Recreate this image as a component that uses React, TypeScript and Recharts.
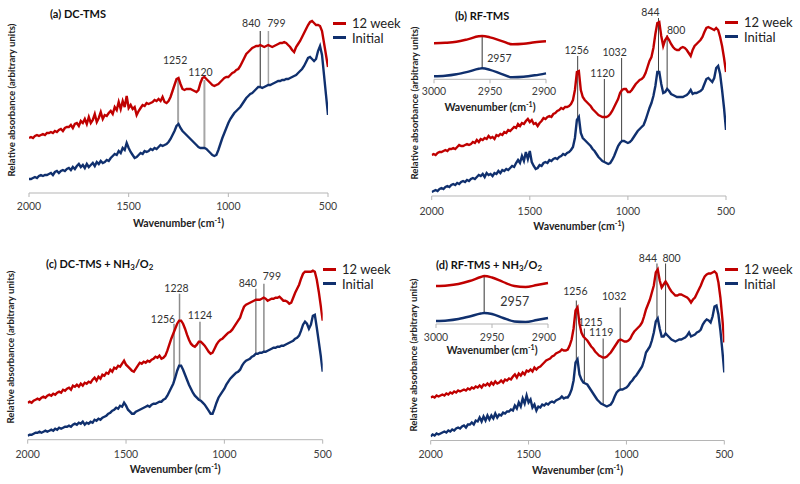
import { LineChart, Line, XAxis, YAxis, ReferenceLine } from 'recharts';

const FONT = 'Lato, "Liberation Sans", sans-serif';
const RED = '#c00000';
const NAVY = '#10306e';
const AXIS = '#b5b5b5';

// wavenumber grid (cm-1), shared by the four main spectra
const wavenumbers = [
  2000, 1990, 1980, 1970, 1960, 1950, 1940, 1930, 1920, 1910,
  1900, 1890, 1880, 1870, 1860, 1850, 1840, 1830, 1820, 1810,
  1800, 1790, 1780, 1770, 1760, 1750, 1740, 1730, 1720, 1710,
  1700, 1690, 1680, 1670, 1660, 1650, 1640, 1630, 1620, 1610,
  1600, 1590, 1580, 1570, 1560, 1550, 1540, 1530, 1520, 1510,
  1500, 1490, 1480, 1470, 1460, 1450, 1440, 1430, 1420, 1410,
  1400, 1390, 1380, 1370, 1360, 1350, 1340, 1330, 1320, 1310,
  1300, 1290, 1280, 1270, 1260, 1250, 1240, 1230, 1220, 1210,
  1200, 1190, 1180, 1170, 1160, 1150, 1140, 1130, 1120, 1110,
  1100, 1090, 1080, 1070, 1060, 1050, 1040, 1030, 1020, 1010,
  1000, 990, 980, 970, 960, 950, 940, 930, 920, 910,
  900, 890, 880, 870, 860, 850, 840, 830, 820, 810,
  800, 790, 780, 770, 760, 750, 740, 730, 720, 710,
  700, 690, 680, 670, 660, 650, 640, 630, 620, 610,
  600, 590, 580, 570, 560, 550, 540, 530, 520, 510,
  500,
];

// (a) DC-TMS
const aWeek12 = [
  55, 56, 55, 57, 58, 57, 58, 59, 58, 60,
  60, 61, 60, 62, 61, 63, 64, 62, 65, 66,
  66, 68, 65, 69, 70, 67, 72, 70, 74, 69,
  76, 70, 73, 79, 71, 75, 81, 74, 78, 77,
  80, 82, 79, 86, 83, 91, 84, 92, 86, 97,
  85, 88, 84, 86, 78, 82, 85, 88, 87, 90,
  89, 90, 91, 93, 92, 94, 92, 96, 91, 90,
  92, 96, 102, 108, 114, 115, 109, 104, 103, 104,
  104, 104, 103, 102, 101, 103, 110, 115, 116, 114,
  112, 110, 108, 107, 108, 109, 111, 113, 115, 116,
  116, 118, 120, 121, 123, 124, 127, 131, 135, 139,
  141, 143, 145, 146, 147, 147, 148, 147, 146, 147,
  148, 147, 146, 147, 148, 149, 150, 150, 151, 150,
  148, 146, 143, 141, 146, 149, 152, 156, 160, 164,
  168, 171, 172, 170, 168, 168, 167, 162, 150, 138,
  126,
];
const aInitial = [
  14, 14, 15, 16, 15, 17, 18, 17, 18, 18,
  19, 20, 18, 21, 22, 20, 22, 23, 22, 24,
  25, 23, 26, 24, 27, 29, 26, 28, 25, 29,
  26, 28, 30, 27, 31, 29, 32, 30, 31, 33,
  32, 35, 37, 39, 38, 42, 40, 45, 43, 50,
  45, 41, 38, 35, 36, 38, 40, 39, 42, 41,
  42, 44, 43, 45, 44, 46, 48, 47, 48, 49,
  51, 54, 58, 62, 67, 69, 65, 62, 60, 58,
  56, 54, 52, 50, 48, 46, 45, 45, 45, 44,
  42, 40, 38, 37, 38, 43, 49, 55, 60, 65,
  70, 74, 77, 80, 82, 84, 86, 89, 92, 95,
  97, 99, 100, 102, 104, 106, 106, 105, 106, 107,
  108, 108, 109, 110, 111, 112, 112, 113, 113, 114,
  114, 115, 116, 117, 118, 120, 122, 124, 127, 131,
  135, 136, 134, 132, 134, 142, 147, 138, 118, 98,
  78,
];

// (b) RF-TMS
const bWeek12 = [
  41, 42, 41, 43, 44, 44, 45, 46, 45, 47,
  47, 48, 47, 49, 51, 50, 50, 51, 52, 51,
  52, 54, 53, 56, 54, 57, 56, 58, 57, 60,
  58, 59, 57, 61, 60, 62, 61, 64, 63, 66,
  65, 67, 69, 68, 72, 70, 73, 72, 75, 77,
  74, 76, 72, 73, 70, 73, 75, 78, 77, 79,
  80, 79, 82, 83, 85, 86, 88, 87, 89, 89,
  90, 92, 96, 106, 124, 125, 106, 99, 96, 94,
  92, 90, 87, 85, 83, 81, 80, 79, 79, 79,
  80, 82, 85, 89, 93, 97, 103, 106, 107, 107,
  104, 104, 106, 109, 112, 114, 116, 117, 119, 123,
  129, 135, 139, 148, 162, 173, 174, 160, 150, 156,
  159, 156, 152, 149, 147, 146, 146, 148, 149, 148,
  146, 143, 140, 146, 150, 152, 154, 156, 159, 164,
  168, 169, 168, 167, 166, 168, 166, 159, 150, 138,
  124,
];
const bInitial = [
  4, 5, 6, 5, 7, 8, 7, 9, 10, 9,
  11, 12, 11, 13, 12, 14, 15, 14, 16, 15,
  17, 18, 17, 19, 21, 20, 22, 19, 23, 21,
  22, 20, 23, 22, 25, 23, 26, 25, 27, 26,
  28, 30, 29, 33, 36, 33, 40, 35, 44, 37,
  45, 34, 30, 27, 28, 31, 30, 33, 34, 33,
  36, 35, 37, 38, 37, 39, 40, 42, 41, 43,
  44, 46, 49, 58, 76, 79, 63, 58, 56, 54,
  52, 50, 47, 45, 42, 39, 37, 35, 34, 33,
  32, 33, 36, 40, 45, 50, 53, 55, 55, 54,
  53, 54, 56, 59, 62, 65, 67, 69, 71, 76,
  82, 88, 93, 100, 110, 124, 124, 112, 103, 104,
  107, 105, 102, 101, 100, 99, 99, 99, 99, 100,
  101, 103, 106, 102, 103, 103, 104, 105, 107, 112,
  117, 118, 116, 114, 118, 128, 130, 122, 106, 88,
  66,
];

// (c) DC-TMS + NH3/O2
const cWeek12 = [
  37, 38, 37, 39, 40, 41, 40, 42, 43, 42,
  44, 45, 44, 46, 45, 47, 48, 47, 50, 49,
  51, 52, 50, 54, 53, 55, 53, 56, 54, 57,
  56, 58, 57, 60, 62, 59, 63, 61, 65, 64,
  67, 66, 70, 68, 72, 71, 74, 73, 76, 79,
  75, 73, 71, 69, 68, 71, 74, 77, 76, 78,
  77, 79, 78, 80, 81, 83, 82, 84, 81, 82,
  84, 89, 95, 101, 106, 111, 116, 119, 119, 116,
  111, 105, 100, 96, 94, 93, 95, 98, 98, 96,
  94, 91, 88, 86, 87, 91, 95, 98, 100, 101,
  103, 105, 107, 108, 110, 113, 116, 119, 122, 128,
  133, 135, 136, 137, 138, 139, 140, 140, 140, 141,
  142, 141, 139, 140, 141, 141, 142, 142, 143, 141,
  139, 139, 138, 136, 137, 142, 147, 151, 155, 161,
  166, 168, 168, 168, 168, 169, 168, 160, 148, 134,
  119,
];
const cInitial = [
  4, 5, 5, 6, 7, 7, 8, 7, 8, 9,
  8, 9, 10, 9, 11, 10, 12, 11, 12, 13,
  13, 14, 13, 15, 16, 15, 17, 16, 18, 15,
  17, 16, 18, 17, 20, 19, 21, 20, 22, 23,
  24, 26, 27, 29, 30, 32, 31, 34, 33, 37,
  34, 30, 28, 26, 26, 28, 29, 30, 31, 32,
  33, 34, 33, 35, 36, 36, 37, 38, 38, 40,
  41, 44, 48, 52, 56, 62, 69, 74, 74, 70,
  65, 60, 55, 51, 47, 44, 42, 40, 39, 37,
  35, 32, 29, 26, 26, 31, 37, 42, 45, 48,
  51, 55, 58, 61, 63, 65, 67, 68, 70, 74,
  77, 79, 80, 81, 83, 84, 86, 86, 87, 87,
  88, 88, 89, 90, 91, 92, 92, 93, 93, 94,
  94, 95, 96, 97, 98, 99, 101, 102, 104, 109,
  115, 118, 116, 111, 115, 124, 125, 112, 98, 84,
  68,
];

// (d) RF-TMS + NH3/O2
const dWeek12 = [
  43, 44, 43, 45, 44, 45, 46, 45, 47, 46,
  48, 47, 49, 48, 50, 49, 50, 51, 50, 52,
  51, 53, 52, 54, 53, 55, 53, 56, 55, 57,
  55, 58, 56, 59, 57, 58, 60, 58, 61, 60,
  62, 61, 64, 66, 63, 67, 65, 68, 66, 70,
  69, 71, 69, 73, 71, 73, 74, 76, 78, 80,
  81, 82, 84, 85, 87, 88, 89, 91, 90, 90,
  91, 95, 101, 112, 130, 133, 117, 108, 104, 102,
  100, 97, 94, 92, 89, 87, 85, 84, 83, 83,
  84, 86, 88, 91, 94, 97, 100, 101, 100, 99,
  99, 100, 102, 106, 109, 111, 113, 115, 118, 124,
  131, 136, 141, 148, 155, 168, 171, 160, 153, 156,
  159, 156, 152, 149, 147, 145, 145, 146, 146, 145,
  144, 143, 141, 138, 141, 143, 147, 151, 155, 160,
  164, 166, 167, 167, 168, 169, 167, 158, 143, 122,
  98,
];
const dInitial = [
  4, 6, 5, 7, 6, 7, 8, 9, 8, 10,
  9, 11, 10, 12, 13, 12, 14, 15, 13, 16,
  16, 18, 16, 20, 19, 23, 19, 24, 20, 25,
  21, 25, 22, 27, 23, 26, 25, 28, 27, 29,
  29, 31, 30, 35, 32, 38, 34, 42, 37, 45,
  38, 41, 33, 36, 30, 34, 33, 36, 35, 37,
  36, 38, 39, 38, 40, 41, 42, 44, 42, 43,
  43, 46, 51, 60, 78, 81, 66, 61, 58, 57,
  56, 53, 50, 47, 44, 41, 39, 37, 36, 35,
  34, 35, 36, 39, 44, 48, 50, 51, 51, 52,
  53, 55, 58, 60, 63, 65, 68, 71, 74, 80,
  88, 91, 94, 100, 108, 119, 122, 112, 104, 104,
  107, 105, 103, 101, 100, 99, 100, 101, 101, 102,
  103, 105, 108, 104, 105, 106, 108, 109, 111, 116,
  119, 121, 120, 118, 124, 134, 135, 126, 110, 90,
  68,
];

// C-H stretch insets
const insetWavenumbers = [3000, 2990, 2980, 2970, 2960, 2957, 2950, 2940, 2930, 2920, 2910, 2900];
const bInsetWeek12 = [36, 36.5, 37.5, 40, 43, 43.3, 42, 38.5, 35, 35.5, 37, 38];
const bInsetInitial = [3, 3.5, 5, 7.5, 10.5, 11, 9.5, 5.5, 2, 2.5, 4, 6];
const dInsetWeek12 = [38, 38.5, 40, 43, 47, 48, 46.5, 42, 38, 37, 39, 41];
const dInsetInitial = [3, 3.5, 5, 7.5, 10.5, 11, 10, 6, 2.5, 2, 4, 6];

const mainTicks = [2000, 1500, 1000, 500];
const insetTicks = [3000, 2950, 2900];

type Mark = {
  wn: number; top: number; bottom: number; text: string;
  dx: number; dy: number; anchor?: 'start' | 'middle'; size?: number;
  stroke?: string; width?: number;
};

const aMarks: Mark[] = [
  { wn: 1252, top: 114, bottom: 69, text: '1252', dx: -3, dy: -19, stroke: '#a6a6a6', width: 2 },
  { wn: 1120, top: 113, bottom: 45, text: '1120', dx: -4, dy: -8, stroke: '#a6a6a6', width: 2 },
  { wn: 840, top: 162, bottom: 106, text: '840', dx: -9, dy: -8, stroke: '#262626', width: 1 },
  { wn: 799, top: 162, bottom: 108, text: '799', dx: 8, dy: -8, stroke: '#a6a6a6', width: 1.5 },
];
const bMarks: Mark[] = [
  { wn: 1256, top: 140, bottom: 78, text: '1256', dx: -1, dy: -6 },
  { wn: 1120, top: 117, bottom: 34, text: '1120', dx: -2, dy: -6 },
  { wn: 1032, top: 138, bottom: 55, text: '1032', dx: -7, dy: -6 },
  { wn: 844, top: 178, bottom: 124, text: '844', dx: -8, dy: -6 },
  { wn: 800, top: 161, bottom: 107, text: '800', dx: 9, dy: -5 },
];
const cMarks: Mark[] = [
  { wn: 1256, top: 116, bottom: 57, text: '1256', dx: -11, dy: -5 },
  { wn: 1228, top: 146, bottom: 74, text: '1228', dx: -3, dy: -6 },
  { wn: 1124, top: 118, bottom: 39, text: '1124', dx: 0, dy: -7 },
  { wn: 840, top: 151, bottom: 86, text: '840', dx: -8, dy: -6 },
  { wn: 799, top: 156, bottom: 88, text: '799', dx: 8, dy: -8 },
];
const dMarks: Mark[] = [
  { wn: 1256, top: 140, bottom: 80, text: '1256', dx: -1, dy: -10 },
  { wn: 1215, top: 112, bottom: 57, text: '1215', dx: 6, dy: -7 },
  { wn: 1119, top: 102, bottom: 36, text: '1119', dx: -2, dy: -7 },
  { wn: 1032, top: 133, bottom: 51, text: '1032', dx: -6, dy: -12 },
  { wn: 844, top: 177, bottom: 121, text: '844', dx: -9, dy: -6 },
  { wn: 800, top: 177, bottom: 107, text: '800', dx: 6, dy: -6 },
];
const bInsetMarks: Mark[] = [{ wn: 2957, top: 43.3, bottom: 11, text: '2957', dx: 5, dy: 22, anchor: 'start' }];
const dInsetMarks: Mark[] = [{ wn: 2957, top: 48, bottom: 11, text: '2957', dx: 16, dy: 25, anchor: 'start', size: 12.5 }];

function markLabel(m: Mark) {
  return (props: any) => {
    const vb = props.viewBox || { x: 0, y: 0 };
    return (
      <text
        x={vb.x + m.dx}
        y={vb.y + m.dy}
        textAnchor={m.anchor ?? 'middle'}
        dominantBaseline="central"
        fontSize={m.size ?? 10.5}
        fill="#333"
        fontFamily={FONT}
      >
        {m.text}
      </text>
    );
  };
}

function renderMarks(marks: Mark[], stroke: string, width: number) {
  return marks.map((m) => (
    <ReferenceLine
      key={m.text}
      segment={[{ x: m.wn, y: m.bottom }, { x: m.wn, y: m.top }]}
      stroke={m.stroke ?? stroke}
      strokeWidth={m.width ?? width}
      label={markLabel(m)}
    />
  ));
}

function makeTick(gap: number, size: number) {
  return (props: any) => (
    <text
      x={props.x}
      y={props.y - 6 + gap}
      textAnchor="middle"
      dominantBaseline="central"
      fontSize={size}
      fill="#404040"
      fontFamily={FONT}
    >
      {props.payload.value}
    </text>
  );
}

const WaveLabel = ({ cx, cy }: { cx: number; cy: number }) => (
  <div
    style={{
      position: 'absolute', left: cx, top: cy, transform: 'translate(-50%, -50%)',
      fontWeight: 700, fontSize: 10.5, whiteSpace: 'nowrap', color: '#222', lineHeight: '12px',
    }}
  >
    Wavenumber (cm<sup style={{ fontSize: 7, lineHeight: 0, verticalAlign: '4px' }}>-1</sup>)
  </div>
);

function Spectrum(props: {
  left: number; top: number; x0: number; x1: number; axisY: number; tickGap: number;
  week12: number[]; initial: number[]; marks: Mark[]; markStroke: string; markWidth: number;
}) {
  const W = 400;
  const H = 242;
  const plotH = 185;
  const axisH = 30;
  const rows = wavenumbers.map((w, i) => ({ wn: w, week12: props.week12[i], initial: props.initial[i] }));
  return (
    <div style={{ position: 'absolute', left: props.left, top: props.top, width: W, height: H }}>
      <LineChart
        width={W}
        height={H}
        data={rows}
        margin={{
          left: props.x0 - props.left,
          right: props.left + W - props.x1,
          top: props.axisY - props.top - plotH,
          bottom: H - (props.axisY - props.top) - axisH,
        }}
      >
        <XAxis
          dataKey="wn"
          type="number"
          domain={[500, 2000]}
          reversed
          ticks={mainTicks}
          height={axisH}
          stroke={AXIS}
          tickSize={4}
          tickMargin={2}
          tick={makeTick(props.tickGap, 10.5)}
          allowDataOverflow
        />
        <YAxis hide domain={[0, plotH]} allowDataOverflow />
        {renderMarks(props.marks, props.markStroke, props.markWidth)}
        <Line type="linear" dataKey="week12" stroke={RED} strokeWidth={2.4} dot={false} isAnimationActive={false} />
        <Line type="linear" dataKey="initial" stroke={NAVY} strokeWidth={2.4} dot={false} isAnimationActive={false} />
      </LineChart>
      <WaveLabel cx={(props.x0 + props.x1) / 2 - props.left} cy={props.axisY - props.top + 29.5} />
    </div>
  );
}

function Inset(props: {
  left: number; top: number; x0: number; x1: number; axisY: number; tickGap: number;
  week12: number[]; initial: number[]; marks: Mark[]; labelY: number;
}) {
  const W = 160;
  const H = 110;
  const plotH = 55;
  const axisH = 20;
  const rows = insetWavenumbers.map((w, i) => ({ wn: w, week12: props.week12[i], initial: props.initial[i] }));
  return (
    <div style={{ position: 'absolute', left: props.left, top: props.top, width: W, height: H }}>
      <LineChart
        width={W}
        height={H}
        data={rows}
        margin={{
          left: props.x0 - props.left,
          right: props.left + W - props.x1,
          top: props.axisY - props.top - plotH,
          bottom: H - (props.axisY - props.top) - axisH,
        }}
      >
        <XAxis
          dataKey="wn"
          type="number"
          domain={[2900, 3000]}
          reversed
          ticks={insetTicks}
          height={axisH}
          stroke={AXIS}
          tickSize={4}
          tickMargin={2}
          tick={makeTick(props.tickGap, 10.5)}
        />
        <YAxis hide domain={[0, plotH]} />
        {renderMarks(props.marks, '#333', 1)}
        <Line type="monotone" dataKey="week12" stroke={RED} strokeWidth={2.4} dot={false} isAnimationActive={false} />
        <Line type="monotone" dataKey="initial" stroke={NAVY} strokeWidth={2.4} dot={false} isAnimationActive={false} />
      </LineChart>
      <WaveLabel cx={(props.x0 + props.x1) / 2 - props.left} cy={props.labelY - props.top} />
    </div>
  );
}

const Title = ({ x, y, children }: { x: number; y: number; children: any }) => (
  <div
    style={{
      position: 'absolute', left: x, top: y, transform: 'translateY(-50%)',
      fontWeight: 700, fontSize: 11, whiteSpace: 'nowrap', color: '#111', lineHeight: '13px',
    }}
  >
    {children}
  </div>
);

const YLabel = ({ cx, cy }: { cx: number; cy: number }) => (
  <div
    style={{
      position: 'absolute', left: cx, top: cy, transform: 'translate(-50%, -50%) rotate(-90deg)',
      fontWeight: 700, fontSize: 9.6, whiteSpace: 'nowrap', color: '#222', lineHeight: '12px',
    }}
  >
    Relative absorbance (arbitrary units)
  </div>
);

const Legend = ({ x, y }: { x: number; y: number }) => (
  <>
    {[
      { name: '12 week', color: RED, dy: 0 },
      { name: 'Initial', color: NAVY, dy: 14.5 },
    ].map((s) => (
      <div key={s.name}>
        <div style={{ position: 'absolute', left: x, top: y + s.dy - 1.5, width: 13, height: 3, background: s.color }} />
        <div
          style={{
            position: 'absolute', left: x + 19, top: y + s.dy, transform: 'translateY(-50%)',
            fontSize: 13, color: '#222', whiteSpace: 'nowrap', lineHeight: '15px',
          }}
        >
          {s.name}
        </div>
      </div>
    ))}
  </>
);

const sub = { fontSize: '0.72em', verticalAlign: '-0.3em', lineHeight: 0 };

export default function App() {
  return (
    <div style={{ position: 'absolute', left: 0, top: 0, width: 800, height: 484, background: '#fff', fontFamily: FONT }}>
      <Spectrum left={0} top={0} x0={29} x1={328} axisY={193} tickGap={13}
        week12={aWeek12} initial={aInitial} marks={aMarks} markStroke="#a6a6a6" markWidth={1.5} />
      <Spectrum left={400} top={0} x0={431.7} x1={726} axisY={196} tickGap={15}
        week12={bWeek12} initial={bInitial} marks={bMarks} markStroke="#404040" markWidth={1} />
      <Spectrum left={0} top={242} x0={27.7} x1={322.7} axisY={439.7} tickGap={14.3}
        week12={cWeek12} initial={cInitial} marks={cMarks} markStroke="#8c8c8c" markWidth={1.5} />
      <Spectrum left={400} top={242} x0={430.7} x1={724.3} axisY={440.5} tickGap={13.5}
        week12={dWeek12} initial={dInitial} marks={dMarks} markStroke="#404040" markWidth={1} />

      <Inset left={400} top={0} x0={434} x1={546} axisY={79.3} tickGap={11.4}
        week12={bInsetWeek12} initial={bInsetInitial} marks={bInsetMarks} labelY={107} />
      <Inset left={400} top={242} x0={436} x1={548} axisY={324} tickGap={12.5}
        week12={dInsetWeek12} initial={dInsetInitial} marks={dInsetMarks} labelY={350} />

      <Title x={50} y={13}>(a) DC-TMS</Title>
      <Title x={455} y={15}>(b) RF-TMS</Title>
      <Title x={46} y={263}>(c) DC-TMS + NH<sub style={sub}>3</sub>/O<sub style={sub}>2</sub></Title>
      <Title x={436} y={264}>(d) RF-TMS + NH<sub style={sub}>3</sub>/O<sub style={sub}>2</sub></Title>

      <YLabel cx={12} cy={100} />
      <YLabel cx={415} cy={103} />
      <YLabel cx={11} cy={347} />
      <YLabel cx={414} cy={355} />

      <Legend x={333} y={23} />
      <Legend x={725} y={22} />
      <Legend x={323} y={269} />
      <Legend x={725} y={269} />
    </div>
  );
}
